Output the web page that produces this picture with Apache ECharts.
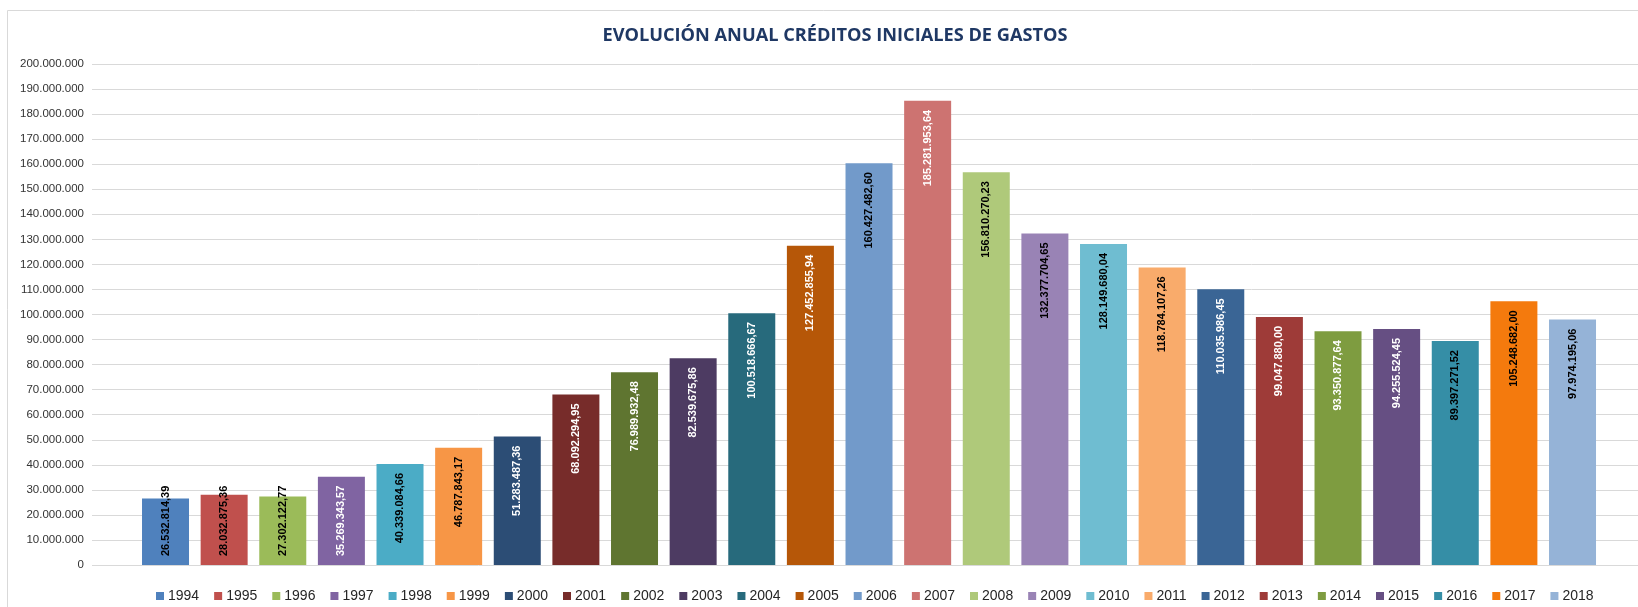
<!DOCTYPE html>
<html>
<head>
<meta charset="utf-8">
<script src="https://cdn.jsdelivr.net/npm/echarts@6/dist/echarts.min.js"></script>
<style>
	html, body { margin: 0; padding: 0; background: #fff; }
	#chart { width: 1638px; height: 607px; }
</style>
</head>
<body>
<div id="chart"></div>
<script>
	let years = ['1994', '1995', '1996', '1997', '1998', '1999', '2000', '2001', '2002', '2003', '2004', '2005',
		'2006', '2007', '2008', '2009', '2010', '2011', '2012', '2013', '2014', '2015', '2016', '2017', '2018'];

	let credits = [26532814.39, 28032875.36, 27302122.77, 35269343.57, 40339084.66, 46787843.17, 51283487.36,
		68092294.95, 76989932.48, 82539675.86, 100518666.67, 127452855.94, 160427482.60, 185281953.64,
		156810270.23, 132377704.65, 128149680.04, 118784107.26, 110035986.45, 99047880.00, 93350877.64,
		94255524.45, 89397271.52, 105248682.00, 97974195.06];

	let yTicks = [0, 200000000, 10000000]; // min, max, interval

	let colors = ['#4F81BD', '#C0504D', '#9BBB59', '#8064A2', '#4BACC6', '#F79646', '#2C4D75', '#772C2A',
		'#5F7530', '#4D3B62', '#276A7C', '#B65708', '#729ACA', '#CD7371', '#AFC97A', '#9983B5', '#6FBDD1',
		'#F9AB6B', '#3A6595', '#9E3B38', '#7E9C40', '#664F83', '#358EA6', '#F47A0D', '#95B3D7'];
	// colour of the value text inside each bar
	let labelColors = ['#000', '#000', '#000', '#fff', '#000', '#000', '#fff', '#fff', '#fff', '#fff', '#fff', '#fff',
		'#000', '#fff', '#000', '#000', '#000', '#000', '#fff', '#fff', '#fff', '#fff', '#000', '#000', '#000'];

	function fmtMiles(n, dec) {
		let s = n.toFixed(dec);
		let parts = s.split('.');
		let ent = parts[0].replace(/\B(?=(\d{3})+(?!\d))/g, '.');
		return parts.length > 1 ? ent + ',' + parts[1] : ent;
	}

	let series = [];
	years.forEach((year, i) => {
		// short bars: Excel keeps the label inside, starting at the base
		let small = credits[i] < 34000000;
		series.push({
			type: 'bar',
			name: year,
			barWidth: 47,
			barGap: '-100%',
			itemStyle: { color: colors[i] },
			label: {
				show: true,
				rotate: 90,
				position: small ? 'insideBottom' : 'insideTop',
				align: small ? 'left' : 'right',
				verticalAlign: 'middle',
				distance: 9,
				color: labelColors[i],
				fontFamily: 'Liberation Sans',
				fontWeight: 'bold',
				fontSize: 11,
				formatter: p => fmtMiles(p.value[1], 2)
			},
			data: [[i, credits[i]]]
		});
	});

	let option = {
		animation: false,
		color: colors,
		title: {
			text: 'EVOLUCIÓN ANUAL CRÉDITOS INICIALES DE GASTOS',
			left: 830,
			textAlign: 'center',
			top: 22,
			textStyle: {
				color: '#1F3864',
				fontFamily: 'Open Sans',
				fontWeight: 'bold',
				fontSize: 18.2
			}
		},
		legend: {
			data: years,
			left: 151,
			top: 584,
			icon: 'rect',
			itemWidth: 8,
			itemHeight: 8,
			itemGap: 15,
			textStyle: {
				color: '#262626',
				fontFamily: 'Liberation Sans',
				fontSize: 14,
				padding: [0, 0, 0, -1]
			}
		},
		grid: {
			top: 64,
			left: 92,
			right: 0,
			bottom: 42
		},
		graphic: [{
			type: 'rect',
			shape: { x: 7.5, y: 10.5, width: 1700, height: 700 },
			style: { fill: null, stroke: '#d9d9d9', lineWidth: 1 },
			silent: true
		}],
		xAxis: {
			type: 'value',
			min: -1.254,
			max: 25.117,
			show: false,
			splitLine: { show: false }
		},
		yAxis: {
			type: 'value',
			min: yTicks[0],
			max: yTicks[1],
			interval: yTicks[2],
			axisLine: { show: false },
			axisTick: { show: false },
			splitLine: {
				lineStyle: { color: '#d9d9d9', width: 1 }
			},
			axisLabel: {
				margin: 8,
				color: '#333',
				fontFamily: 'Liberation Sans',
				fontSize: 11.5,
				formatter: v => fmtMiles(v, 0)
			}
		},
		series: series
	};

	let chart = echarts.init(document.getElementById('chart'));
	chart.setOption(option);
	window.addEventListener('resize', function() {
		chart.resize();
	});
</script>
</body>
</html>
